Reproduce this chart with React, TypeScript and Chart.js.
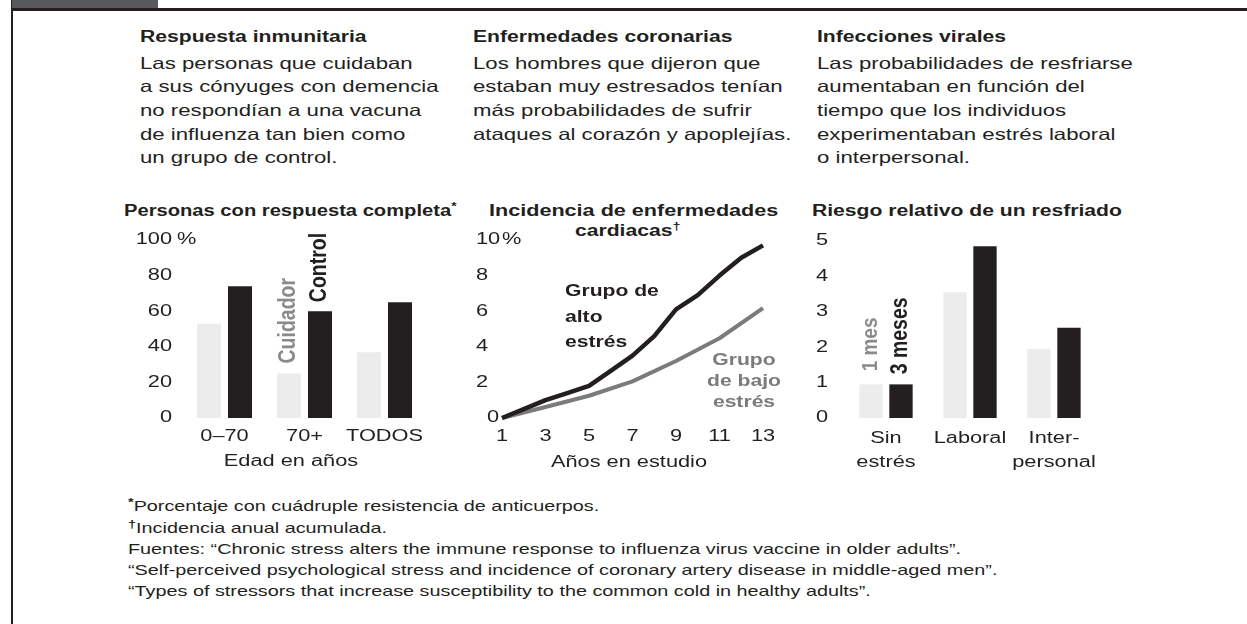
import React, { useEffect, useRef } from "react";
import { Chart, registerables } from "chart.js";
Chart.register(...registerables);

// ---------- data ----------
// Respuesta inmunitaria
const ageGroups = ["0–70", "70+", "TODOS"];
const caregiverPct = [53, 25, 37];
const controlPct = [74, 60, 65];
const pctTicks = [0, 20, 40, 60, 80, 100];

// Enfermedades coronarias
const highStressYears = [1, 2, 3, 4, 5, 6, 7, 8, 9, 10, 11, 12, 13];
const highStress = [0, 0.5, 1.0, 1.4, 1.8, 2.65, 3.5, 4.6, 6.1, 6.9, 8.0, 9.0, 9.7];
const lowStressYears = [1, 3, 5, 7, 9, 11, 13];
const lowStress = [0, 0.62, 1.25, 2.06, 3.2, 4.48, 6.17];
const incidenceTicks = [0, 2, 4, 6, 8, 10];
const yearTicks = [1, 3, 5, 7, 9, 11, 13];

// Infecciones virales
const stressTypes = [["Sin", "estrés"], ["Laboral"], ["Inter-", "personal"]];
const oneMonth = [0.95, 3.55, 1.95];
const threeMonths = [0.95, 4.85, 2.55];
const riskTicks = [0, 1, 2, 3, 4, 5];

// ---------- styles ----------
const FONT = "'Liberation Sans', Arial, Helvetica, sans-serif";
const INK = "#231f20";
const LIGHT = "#ececec";
const GRAY_TXT = "#8a8a8a";
const GRAY_LINE = "#7b7b7b";
const SX = 1.32; // horizontal stretch of bold text
const SXR = 1.36; // regular chart text stretch

type DT = {
  size?: number; bold?: boolean; color?: string; align?: CanvasTextAlign;
  baseline?: CanvasTextBaseline; sx?: number; rotate?: boolean;
};
function drawText(ctx: CanvasRenderingContext2D, text: string, x: number, y: number, o: DT = {}) {
  ctx.save();
  ctx.translate(x, y);
  ctx.scale(o.sx ?? SXR, 1);
  if (o.rotate) ctx.rotate(-Math.PI / 2);
  ctx.font = `${o.bold ? "bold " : ""}${o.size ?? 16}px ${FONT}`;
  ctx.fillStyle = o.color ?? INK;
  ctx.textAlign = o.align ?? "left";
  ctx.textBaseline = o.baseline ?? "alphabetic";
  ctx.fillText(text, 0, 0);
  ctx.restore();
}

function ChartBox({ left, top, width, height, make }: {
  left: number; top: number; width: number; height: number;
  make: (c: HTMLCanvasElement) => Chart;
}) {
  const ref = useRef<HTMLCanvasElement>(null);
  useEffect(() => {
    const chart = make(ref.current as HTMLCanvasElement);
    return () => chart.destroy();
  }, []);
  return (
    <div style={{ position: "absolute", left, top, width, height }}>
      <canvas ref={ref} width={width} height={height} style={{ width, height, display: "block" }} />
    </div>
  );
}

const baseOptions = (pad: { left: number; right: number; top: number; bottom: number }) => ({
  responsive: false,
  animation: false as const,
  events: [] as any[],
  layout: { padding: pad },
  plugins: { legend: { display: false }, tooltip: { enabled: false }, title: { display: false } },
});

// ---------- chart 1 ----------
function makeImmune(canvas: HTMLCanvasElement) {
  const plugin = {
    id: "immuneLabels",
    afterDraw(chart: any) {
      const ctx = chart.ctx as CanvasRenderingContext2D;
      const y = chart.scales.y, x = chart.scales.x, a = chart.chartArea;
      pctTicks.forEach((v) => {
        drawText(ctx, String(v), 62, y.getPixelForValue(v), { align: "right", baseline: "middle" });
      });
      drawText(ctx, "%", 67, y.getPixelForValue(100), { baseline: "middle" });
      ageGroups.forEach((g, i) => {
        drawText(ctx, g, x.getPixelForValue(i), a.bottom + 23, { align: "center" });
      });
      drawText(ctx, "Edad en años", 181, a.bottom + 48, { align: "center" });
      const lb = chart.getDatasetMeta(0).data[1];
      const db = chart.getDatasetMeta(1).data[1];
      drawText(ctx, "Cuidador", lb.x, lb.y - 10, { rotate: true, bold: true, size: 19.5, color: GRAY_TXT, baseline: "middle", sx: 1.2 });
      drawText(ctx, "Control", db.x, db.y - 9, { rotate: true, bold: true, size: 19.5, color: INK, baseline: "middle", sx: 1.2 });
    },
  };
  return new Chart(canvas, {
    type: "bar",
    data: {
      labels: ageGroups,
      datasets: [
        { label: "Cuidador", data: caregiverPct, backgroundColor: LIGHT, categoryPercentage: 0.775, barPercentage: 0.774 },
        { label: "Control", data: controlPct, backgroundColor: INK, categoryPercentage: 0.775, barPercentage: 0.774 },
      ],
    },
    options: {
      ...baseOptions({ left: 74.5, right: 15.5, top: 15, bottom: 57 }),
      scales: { x: { display: false }, y: { display: false, min: 0, max: 100 } },
    } as any,
    plugins: [plugin],
  });
}

// ---------- chart 2 ----------
function makeHeart(canvas: HTMLCanvasElement) {
  const plugin = {
    id: "heartLabels",
    afterDraw(chart: any) {
      const ctx = chart.ctx as CanvasRenderingContext2D;
      const y = chart.scales.y, x = chart.scales.x, a = chart.chartArea;
      incidenceTicks.forEach((v) => {
        drawText(ctx, String(v), v === 0 ? 27 : 16, y.getPixelForValue(v), { baseline: "middle" });
      });
      drawText(ctx, "%", 42, y.getPixelForValue(10), { baseline: "middle" });
      yearTicks.forEach((v) => {
        drawText(ctx, String(v), x.getPixelForValue(v), a.bottom + 23, { align: "center" });
      });
      drawText(ctx, "Años en estudio", 169, a.bottom + 49, { align: "center" });
      const hx = 105;
      ["Grupo de", "alto", "estrés"].forEach((t, i) => {
        drawText(ctx, t, hx, 71 + i * 25.5, { bold: true, sx: SX });
      });
      const gx = 284;
      ["Grupo", "de bajo", "estrés"].forEach((t, i) => {
        drawText(ctx, t, gx, 140 + i * 20.8, { bold: true, sx: SX, color: GRAY_LINE, align: "center" });
      });
    },
  };
  return new Chart(canvas, {
    type: "line",
    data: {
      datasets: [
        {
          label: "Grupo de alto estrés",
          data: highStressYears.map((yr, i) => ({ x: yr, y: highStress[i] })),
          borderColor: INK, borderWidth: 4.5, pointRadius: 0, clip: false, tension: 0, borderJoinStyle: "round",
        },
        {
          label: "Grupo de bajo estrés",
          data: lowStressYears.map((yr, i) => ({ x: yr, y: lowStress[i] })),
          borderColor: GRAY_LINE, borderWidth: 4, pointRadius: 0, clip: false, tension: 0, borderJoinStyle: "round",
        },
      ],
    },
    options: {
      ...baseOptions({ left: 42, right: 27, top: 15, bottom: 57 }),
      scales: {
        x: { type: "linear", display: false, min: 1, max: 13 },
        y: { display: false, min: 0, max: 10 },
      },
    } as any,
    plugins: [plugin],
  });
}

// ---------- chart 3 ----------
function makeCold(canvas: HTMLCanvasElement) {
  const plugin = {
    id: "coldLabels",
    afterDraw(chart: any) {
      const ctx = chart.ctx as CanvasRenderingContext2D;
      const y = chart.scales.y, x = chart.scales.x, a = chart.chartArea;
      riskTicks.forEach((v) => {
        drawText(ctx, String(v), 28, y.getPixelForValue(v), { align: "right", baseline: "middle" });
      });
      stressTypes.forEach((lines, i) => {
        lines.forEach((t, j) => {
          drawText(ctx, t, x.getPixelForValue(i), a.bottom + 25 + j * 23.5, { align: "center" });
        });
      });
      const lb = chart.getDatasetMeta(0).data[0];
      const db = chart.getDatasetMeta(1).data[0];
      drawText(ctx, "1 mes", lb.x, lb.y - 13, { rotate: true, bold: true, size: 19, color: GRAY_TXT, baseline: "middle", sx: 1.2 });
      drawText(ctx, "3 meses", db.x, db.y - 10, { rotate: true, bold: true, size: 19.5, color: INK, baseline: "middle", sx: 1.2 });
    },
  };
  return new Chart(canvas, {
    type: "bar",
    data: {
      labels: stressTypes.map((l) => l.join(" ")),
      datasets: [
        { label: "1 mes", data: oneMonth, backgroundColor: LIGHT, categoryPercentage: 0.714, barPercentage: 0.778 },
        { label: "3 meses", data: threeMonths, backgroundColor: INK, categoryPercentage: 0.714, barPercentage: 0.778 },
      ],
    },
    options: {
      ...baseOptions({ left: 44, right: 34, top: 16, bottom: 57 }),
      scales: { x: { display: false }, y: { display: false, min: 0, max: 5 } },
    } as any,
    plugins: [plugin],
  });
}

// ---------- html text ----------
function Txt({ x, y, size = 16, bold = false, color = INK, sx = SXR, center = false, children }: {
  x: number; y: number; size?: number; bold?: boolean; color?: string; sx?: number; center?: boolean;
  children: React.ReactNode;
}) {
  return (
    <div
      style={{
        position: "absolute", left: x, top: y - 0.8465 * size, fontSize: size, lineHeight: 1,
        fontWeight: bold ? 700 : 400, color, whiteSpace: "nowrap", fontFamily: FONT,
        transform: center ? `translateX(-50%) scaleX(${sx})` : `scaleX(${sx})`,
        transformOrigin: center ? "50% 0" : "0 0",
      }}
    >
      {children}
    </div>
  );
}

const Sup = ({ children, size = 11, top = -6 }: { children: React.ReactNode; size?: number; top?: number }) => (
  <span style={{ fontSize: size, position: "relative", top, fontWeight: 700 }}>{children}</span>
);

const columns = [
  {
    x: 140, head: "Respuesta inmunitaria",
    lines: ["Las personas que cuidaban", "a sus cónyuges con demencia", "no respondían a una vacuna", "de influenza tan bien como", "un grupo de control."],
  },
  {
    x: 473, head: "Enfermedades coronarias",
    lines: ["Los hombres que dijeron que", "estaban muy estresados tenían", "más probabilidades de sufrir", "ataques al corazón y apoplejías."],
  },
  {
    x: 817, head: "Infecciones virales",
    lines: ["Las probabilidades de resfriarse", "aumentaban en función del", "tiempo que los individuos", "experimentaban estrés laboral", "o interpersonal."],
  },
];

const notes = [
  "Fuentes: “Chronic stress alters the immune response to influenza virus vaccine in older adults”.",
  "“Self-perceived psychological stress and incidence of coronary artery disease in middle-aged men”.",
  "“Types of stressors that increase susceptibility to the common cold in healthy adults”.",
];

export default function App() {
  const FN = 15, FSX = 1.32;
  return (
    <div style={{ position: "fixed", left: 0, top: 0, width: 1247, height: 624, background: "#fff", overflow: "hidden" }}>
      {/* frame */}
      <div style={{ position: "absolute", left: 11, top: 0, width: 2, height: 624, background: INK }} />
      <div style={{ position: "absolute", left: 12, top: 0, width: 146, height: 8, background: "#58595b" }} />
      <div style={{ position: "absolute", left: 11, top: 8, width: 1236, height: 3, background: INK }} />

      {columns.map((c) => (
        <React.Fragment key={c.head}>
          <Txt x={c.x} y={43} bold sx={SX}>{c.head}</Txt>
          {c.lines.map((l, i) => (
            <Txt key={l} x={c.x} y={68.5 + i * 23.7} size={16.5} sx={1.345}>{l}</Txt>
          ))}
        </React.Fragment>
      ))}

      <Txt x={124} y={216.7} bold sx={1.26}>Personas con respuesta completa<Sup>*</Sup></Txt>
      <Txt x={489} y={216.7} bold sx={1.35}>Incidencia de enfermedades</Txt>
      <Txt x={575} y={236.7} bold sx={SX}>cardiacas<Sup>†</Sup></Txt>
      <Txt x={812} y={216.7} bold sx={SX}>Riesgo relativo de un resfriado</Txt>

      <ChartBox left={110} top={225} width={330} height={250} make={makeImmune} />
      <ChartBox left={460} top={225} width={330} height={250} make={makeHeart} />
      <ChartBox left={800} top={225} width={330} height={250} make={makeCold} />

      <Txt x={128} y={511} size={FN} sx={FSX}><Sup size={11} top={-5}>*</Sup>Porcentaje con cuádruple resistencia de anticuerpos.</Txt>
      <Txt x={128} y={532.2} size={FN} sx={FSX}><Sup size={11} top={-5}>†</Sup>Incidencia anual acumulada.</Txt>
      {notes.map((n, i) => (
        <Txt key={n} x={128} y={553.3 + i * 21.1} size={FN} sx={FSX}>{n}</Txt>
      ))}
    </div>
  );
}
